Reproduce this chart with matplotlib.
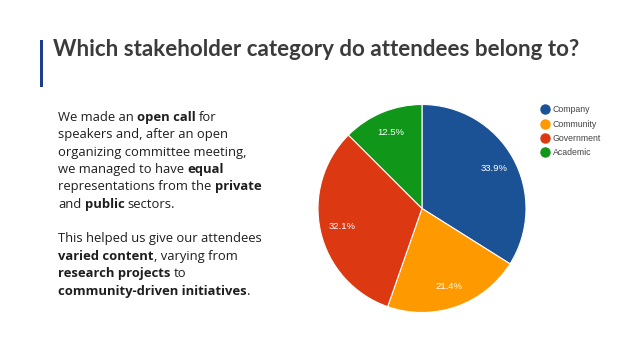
import matplotlib
matplotlib.use("Agg")
import matplotlib.pyplot as plt
from matplotlib.lines import Line2D
from matplotlib.patches import Rectangle

# ---- data ----
categories = ["Company", "Community", "Government", "Academic"]
shares = [33.9, 21.4, 32.1, 12.5]
colors = ["#1b5296", "#ff9900", "#dc3912", "#109618"]
title = "Which stakeholder category do attendees belong to?"
para1 = [
    [("We made an ", False), ("open call", True), (" for", False)],
    [("speakers and, after an open", False)],
    [("organizing committee meeting,", False)],
    [("we managed to have ", False), ("equal", True)],
    [("representations from the ", False), ("private", True)],
    [("and ", False), ("public", True), (" sectors.", False)],
]
para2 = [
    [("This helped us give our attendees", False)],
    [("varied content", True), (", varying from", False)],
    [("research projects", True), (" to", False)],
    [("community-driven initiatives", True), (".", False)],
]

W, H = 638, 359
DPI = 100
fig = plt.figure(figsize=(W / DPI, H / DPI), dpi=DPI)
fig.patch.set_facecolor("white")

title_font = "Lato"
body_font = "Open Sans"

def fx(px):
    return px / W

def fy(py):
    return 1 - py / H

# accent bar
fig.add_artist(Rectangle((fx(40), fy(87)), fx(3), 47 / H, transform=fig.transFigure,
                         facecolor="#1c3f8a", edgecolor="none"))

# title
fig.text(fx(53), fy(56.5), title, fontsize=16.1, fontweight="bold", color="#3b3b3b",
         family=title_font, va="baseline", ha="left")

# body text with mixed weights
BODY_FS = 9.4
fig.canvas.draw()
renderer = fig.canvas.get_renderer()
_cache = {}

def ink(s, bold):
    key = (s, bold)
    if key not in _cache:
        t = fig.text(0, 0, s, fontsize=BODY_FS, family=body_font,
                     fontweight="bold" if bold else "normal")
        _cache[key] = t.get_window_extent(renderer).width
        t.remove()
    return _cache[key]

def advance(s, bold):
    return ink("|" + s + "|", bold) - ink("||", bold)

def draw_line(x0, ybase, segs):
    x = x0
    for s, bold in segs:
        lead = len(s) - len(s.lstrip(" "))
        core = s.lstrip(" ")
        if lead:
            x += advance(" " * lead, bold)
        if core.strip():
            fig.text(fx(x), fy(ybase), core.rstrip(" "), fontsize=BODY_FS, family=body_font,
                     fontweight="bold" if bold else "normal", color="#1e1e1e",
                     va="baseline", ha="left")
        x += advance(core, bold)

y = 121
for segs in para1:
    draw_line(58, y, segs)
    y += 17.3
y = 242
for segs in para2:
    draw_line(58, y, segs)
    y += 17.6

# pie
cx, cy, r = 422, 208.5, 104
ax = fig.add_axes([fx(cx - r), (H - cy - r) / H, 2 * r / W, 2 * r / H])
wedges, texts, autotexts = ax.pie(
    shares, colors=colors, startangle=90, counterclock=False,
    autopct=lambda p: f"{p:.1f}%", pctdistance=0.79,
    wedgeprops=dict(edgecolor="white", linewidth=0.8),
    textprops=dict(color="white", fontsize=6.8, family="Liberation Sans"))
ax.set_xlim(-1, 1)
ax.set_ylim(-1, 1)
ax.set_aspect("auto")
ax.axis("off")

# legend
handles = [Line2D([], [], marker="o", linestyle="none", markersize=6.5,
                  markerfacecolor=c, markeredgecolor=c) for c in colors]
fig.legend(handles, categories, loc="upper left", bbox_to_anchor=(fx(541), fy(105.5)),
           frameon=False, labelcolor="#444444", handlelength=0.9,
           handletextpad=0.45, labelspacing=0.6, borderaxespad=0, borderpad=0,
           prop=dict(family="Liberation Sans", size=6.3))

fig.savefig("out.png", dpi=DPI, facecolor="white")
